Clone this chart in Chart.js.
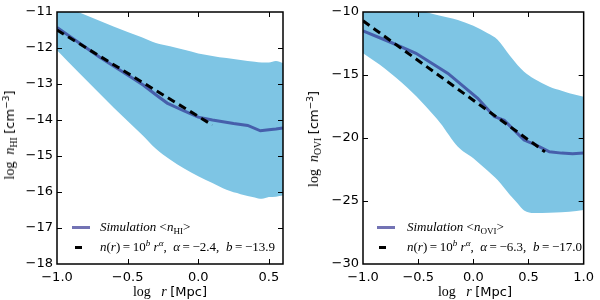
<!DOCTYPE html>
<html>
<head>
<meta charset="utf-8">
<script src="https://cdn.jsdelivr.net/npm/chart.js@4.4.0/dist/chart.umd.min.js"></script>
<style>
  body { margin: 0; background: #fff; }
  #wrap { position: relative; width: 600px; height: 300px; overflow: hidden; }
  canvas { position: absolute; top: 0; }
  .lbl { position: absolute; white-space: nowrap; font-family: 'Liberation Serif', serif; font-size: 14px; color: #000; line-height: 1; }
  .sans { font-family: 'DejaVu Sans', sans-serif; font-size: 13px; }
  .ytitle { transform: translate(-50%, -50%) rotate(-90deg); }
  .xtitle { transform: translate(-50%, -50%); }
  .sb { font-size: 70%; position: relative; top: 0.3em; font-style: normal; }
  .sp { font-size: 70%; position: relative; top: -0.5em; }
  .leg { position: absolute; font-family: 'Liberation Serif', serif; font-size: 13px; white-space: nowrap; line-height: 14px; }
  .sw { position: absolute; height: 3px; }
</style>
</head>
<body>
<div id="wrap">
  <canvas id="hiChart" width="300" height="300" style="left:0"></canvas>
  <canvas id="oviChart" width="300" height="300" style="left:300px"></canvas>

  <!-- axis titles -->
  <div class="lbl ytitle" style="left:10px; top:135px">log&nbsp;&nbsp;<i>n</i><span class="sb">HI</span> <span class="sans">[cm<span class="sp">−3</span>]</span></div>
  <div class="lbl xtitle" style="left:170px; top:292px">log&nbsp;&nbsp;&nbsp;<i>r</i> <span class="sans">[Mpc]</span></div>
  <div class="lbl ytitle" style="left:314px; top:139px">log&nbsp;&nbsp;<i>n</i><span class="sb">OVI</span> <span class="sans">[cm<span class="sp">−3</span>]</span></div>
  <div class="lbl xtitle" style="left:475px; top:292px">log&nbsp;&nbsp;&nbsp;<i>r</i> <span class="sans">[Mpc]</span></div>

  <!-- legends -->
  <div class="sw" style="left:72px; top:226px; width:18px; background:rgba(40,40,140,0.65)"></div>
  <div class="leg" style="left:100px; top:220px"><i>Simulation</i> &lt;<i>n</i><span class="sb">HI</span>&gt;</div>
  <div class="sw" style="left:75px; top:246px; width:7px; background:#000"></div>
  <div class="leg" style="left:100px; top:240px"><i>n</i>(<i>r</i>)&thinsp;=&thinsp;10<span class="sp"><i>b</i></span> <i>r</i><span class="sp"><i>α</i></span>,&nbsp;&nbsp;<i>α</i>&thinsp;=&thinsp;−2.4,&nbsp;&nbsp;<i>b</i>&thinsp;=&thinsp;−13.9</div>

  <div class="sw" style="left:377px; top:226px; width:18px; background:rgba(40,40,140,0.65)"></div>
  <div class="leg" style="left:407px; top:220px"><i>Simulation</i> &lt;<i>n</i><span class="sb">OVI</span>&gt;</div>
  <div class="sw" style="left:379px; top:246px; width:7px; background:#000"></div>
  <div class="leg" style="left:407px; top:240px"><i>n</i>(<i>r</i>)&thinsp;=&thinsp;10<span class="sp"><i>b</i></span> <i>r</i><span class="sp"><i>α</i></span>,&nbsp;&nbsp;<i>α</i>&thinsp;=&thinsp;−6.3,&nbsp;&nbsp;<i>b</i>&thinsp;=&thinsp;−17.0</div>
</div>

<script>
// ── Left panel: n_HI ──
const hiMeanX = [-1.0, -0.7, -0.5, -0.39, -0.3, -0.22, -0.1, 0.0, 0.1, 0.25, 0.35, 0.44, 0.5, 0.55, 0.6];
const hiMean  = [-11.43, -12.25, -12.75, -13.03, -13.3, -13.53, -13.75, -13.92, -14.0, -14.1, -14.15, -14.3, -14.27, -14.25, -14.22];

const hiBandX = [-1.0, -0.85, -0.6, -0.4, -0.3, -0.2, -0.1, 0.0, 0.1, 0.2, 0.3, 0.4, 0.45, 0.5, 0.55, 0.6];
const hiUpper = [-10.77, -11.0, -11.4, -11.7, -11.86, -11.95, -12.05, -12.15, -12.22, -12.28, -12.33, -12.38, -12.4, -12.4, -12.36, -12.42];
const hiLower = [-12.06, -12.67, -13.65, -14.4, -14.8, -15.1, -15.35, -15.56, -15.75, -15.94, -16.06, -16.15, -16.19, -16.14, -16.13, -16.1];

const hiFitX = [-1.0, 0.1];
const hiFit  = [-11.5, -14.14];

const hiXTicks = [-1.0, -0.5, 0.0, 0.5];
const hiYTicks = [-18, -17, -16, -15, -14, -13, -12, -11];

// ── Right panel: n_OVI ──
const oviMeanX = [-1.0, -0.75, -0.52, -0.23, 0.04, 0.19, 0.28, 0.46, 0.57, 0.69, 0.8, 0.9, 1.0];
const oviMean  = [-11.5, -12.4, -13.28, -14.87, -16.85, -18.3, -18.6, -20.16, -20.56, -21.09, -21.2, -21.25, -21.2];

const oviBandX = [-1.0, -0.8, -0.6, -0.43, -0.3, -0.14, 0.0, 0.13, 0.22, 0.33, 0.4, 0.46, 0.55, 0.69, 0.8, 0.87, 1.0];
const oviUpper = [-8.0, -8.8, -9.5, -10.0, -10.3, -10.63, -11.1, -11.69, -12.2, -13.45, -14.2, -14.74, -15.3, -15.93, -16.25, -16.45, -16.72];
const oviLower = [-13.28, -14.5, -16.0, -17.5, -18.8, -20.69, -21.6, -22.6, -23.33, -24.5, -25.18, -25.75, -25.95, -25.93, -25.9, -25.85, -25.71];

const oviFitX = [-1.0, 0.65];
const oviFit  = [-10.7, -21.1];

const oviXTicks = [-1.0, -0.5, 0.0, 0.5, 1.0];
const oviYTicks = [-30, -25, -20, -15, -10];

// ── Styles ──
const bandColor = '#7ec5e4';
const meanColor = 'rgba(40, 40, 140, 0.65)';
const tickFont = { family: 'DejaVu Sans', size: 13 };

// ── Frame + inward ticks ──
const frameTicks = {
    id: 'frameTicks',
    afterDraw(chart) {
        const { ctx, chartArea: a, scales: { x, y } } = chart;
        const len = 5;
        ctx.save();
        ctx.strokeStyle = '#000';
        ctx.lineWidth = 1;
        ctx.beginPath();
        x.ticks.forEach(t => {
            const px = Math.round(x.getPixelForValue(t.value)) + 0.5;
            if (px <= a.left + 1 || px >= a.right - 1) return;
            ctx.moveTo(px, a.bottom); ctx.lineTo(px, a.bottom - len);
            ctx.moveTo(px, a.top);    ctx.lineTo(px, a.top + len);
        });
        y.ticks.forEach(t => {
            const py = Math.round(y.getPixelForValue(t.value)) + 0.5;
            if (py <= a.top + 1 || py >= a.bottom - 1) return;
            ctx.moveTo(a.left, py);  ctx.lineTo(a.left + len, py);
            ctx.moveTo(a.right, py); ctx.lineTo(a.right - len, py);
        });
        ctx.stroke();
        ctx.lineWidth = 1.5;
        ctx.strokeRect(a.left, a.top, a.right - a.left, a.bottom - a.top);
        ctx.restore();
    }
};

// ── Helpers ──
function pts(xs, ys) {
    return xs.map((v, i) => ({ x: v, y: ys[i] }));
}

function fmt(v, digits) {
    const s = Math.abs(v).toFixed(digits);
    return v < 0 ? '−' + s : s;
}

function renderPanel(id, d) {
    const ctx = document.getElementById(id).getContext('2d');
    return new Chart(ctx, {
        type: 'line',
        data: {
            datasets: [
                {
                    data: pts(d.fitX, d.fit),
                    borderColor: '#000',
                    borderWidth: 3,
                    borderDash: [8, 5],
                    pointRadius: 0,
                    fill: false,
                    order: 0
                },
                {
                    data: pts(d.meanX, d.mean),
                    borderColor: meanColor,
                    borderWidth: 3,
                    pointRadius: 0,
                    fill: false,
                    order: 1
                },
                {
                    data: pts(d.bandX, d.upper),
                    borderWidth: 0,
                    borderColor: 'rgba(0,0,0,0)',
                    backgroundColor: bandColor,
                    pointRadius: 0,
                    cubicInterpolationMode: 'monotone',
                    fill: '+1',
                    order: 2
                },
                {
                    data: pts(d.bandX, d.lower),
                    borderWidth: 0,
                    borderColor: 'rgba(0,0,0,0)',
                    pointRadius: 0,
                    cubicInterpolationMode: 'monotone',
                    fill: false,
                    order: 3
                }
            ]
        },
        options: {
            responsive: false,
            animation: false,
            layout: { autoPadding: false, padding: { top: 12, right: d.padRight, left: 0, bottom: 0 } },
            plugins: { legend: { display: false }, tooltip: { enabled: false } },
            scales: {
                x: {
                    type: 'linear',
                    min: d.xMin, max: d.xMax,
                    grid: { display: false, drawTicks: false },
                    border: { display: false },
                    afterBuildTicks: s => { s.ticks = d.xTicks.map(v => ({ value: v })); },
                    afterFit: s => { s.height = 36; },
                    ticks: {
                        font: tickFont, color: '#000', padding: 6,
                        maxRotation: 0, autoSkip: false,
                        callback: v => fmt(v, 1)
                    }
                },
                y: {
                    type: 'linear',
                    min: d.yMin, max: d.yMax,
                    grid: { display: false, drawTicks: false },
                    border: { display: false },
                    afterBuildTicks: s => { s.ticks = d.yTicks.map(v => ({ value: v })); },
                    afterFit: s => { s.width = d.yWidth; },
                    ticks: {
                        font: tickFont, color: '#000', padding: 4,
                        autoSkip: false,
                        callback: v => fmt(v, 0)
                    }
                }
            }
        },
        plugins: [frameTicks]
    });
}

renderPanel('hiChart', {
    meanX: hiMeanX, mean: hiMean,
    bandX: hiBandX, upper: hiUpper, lower: hiLower,
    fitX: hiFitX, fit: hiFit,
    xTicks: hiXTicks, yTicks: hiYTicks,
    xMin: -1.0, xMax: 0.6, yMin: -18, yMax: -11,
    yWidth: 57, padRight: 17
});

renderPanel('oviChart', {
    meanX: oviMeanX, mean: oviMean,
    bandX: oviBandX, upper: oviUpper, lower: oviLower,
    fitX: oviFitX, fit: oviFit,
    xTicks: oviXTicks, yTicks: oviYTicks,
    xMin: -1.0, xMax: 1.0, yMin: -30, yMax: -10,
    yWidth: 63, padRight: 12
});
</script>
</body>
</html>
